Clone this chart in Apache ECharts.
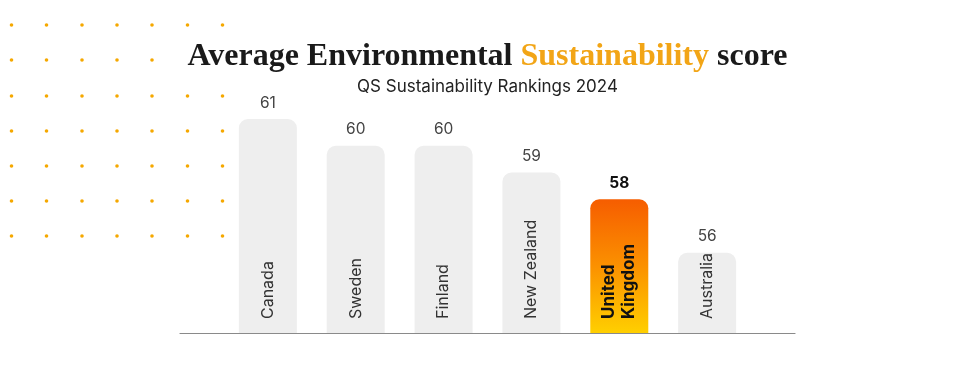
<!DOCTYPE html>
<html><head><meta charset="utf-8">
<style>html,body{margin:0;padding:0;background:#fff}#c{width:975px;height:369px}</style>
<script src="https://cdn.jsdelivr.net/npm/echarts@6/dist/echarts.min.js"></script>
</head><body><div id="c"></div>
<script>
const categories = ['Canada', 'Sweden', 'Finland', 'New Zealand', 'United\nKingdom', 'Australia'];
const scores = [61, 60, 60, 59, 58, 56];
const highlightIndex = 4;
const titleText = 'Average Environmental ';
const titleAccent = 'Sustainability';
const titleEnd = ' score';
const subtitleText = 'QS Sustainability Rankings 2024';

const chart = echarts.init(document.getElementById('c'));

// decorative dot grid
const dotCols = [11.5, 46.5, 82, 117, 152, 187.5, 222.5];
const dotRows = [25, 60, 96, 131, 166, 201, 236];
const dots = [];
dotRows.forEach((y, ri) => {
  dotCols.forEach((x, ci) => {
    if (ri === 1 && ci > 4) return;
    dots.push({type: 'circle', shape: {cx: x, cy: y, r: 1.8}, style: {fill: '#f5a800'}, silent: true});
  });
});

const data = scores.map((v, i) => {
  const hl = i === highlightIndex;
  return {
    value: [i, v],
    name: categories[i],
    itemStyle: hl ? {
      color: new echarts.graphic.LinearGradient(0, 0, 0, 1, [
        {offset: 0, color: '#f65d00'},
        {offset: 0.5, color: '#fb9100'},
        {offset: 1, color: '#ffcf00'}
      ])
    } : {color: '#eeeeee'},
    label: hl ? {color: '#111', fontWeight: 'bold', fontSize: 17, lineHeight: 20} : {}
  };
});

chart.setOption({
  animation: false,
  title: {
    text: '{a|' + titleText + '}{b|' + titleAccent + '}{a|' + titleEnd + '}',
    subtext: subtitleText,
    left: 'center',
    top: 36,
    itemGap: 5,
    textStyle: {
      rich: {
        a: {fontFamily: 'Liberation Serif', fontWeight: 'bold', fontSize: 32, color: '#1a1a1a'},
        b: {fontFamily: 'Liberation Serif', fontWeight: 'bold', fontSize: 32, color: '#f2a516'}
      }
    },
    subtextStyle: {fontFamily: 'Inter', fontSize: 17, color: '#222'}
  },
  graphic: dots,
  grid: {left: 180, right: 180, top: 12, bottom: 36},
  xAxis: {
    type: 'value', min: -1, max: 6,
    axisLine: {show: true, lineStyle: {color: '#8a8a8a', width: 1.2}},
    axisTick: {show: false}, axisLabel: {show: false}, splitLine: {show: false}
  },
  yAxis: {
    type: 'value', min: 53, max: 65, show: false,
    splitLine: {show: false}
  },
  series: [{
    type: 'bar',
    barWidth: 58,
    data: data,
    itemStyle: {borderRadius: [9, 9, 0, 0]},
    label: {
      show: true,
      position: 'insideBottom',
      rotate: 90,
      align: 'left',
      verticalAlign: 'middle',
      distance: 14,
      fontFamily: 'Inter',
      fontSize: 16,
      color: '#333',
      formatter: p => p.name
    },
    z: 2
  }, {
    type: 'bar',
    barWidth: 58,
    barGap: '-100%',
    data: scores.map((v, i) => ({
      value: [i, v],
      itemStyle: {color: 'transparent'},
      label: i === highlightIndex ? {color: '#111', fontWeight: 'bold'} : {}
    })),
    label: {
      show: true,
      position: 'top',
      distance: 8,
      fontFamily: 'Inter',
      fontSize: 15.5,
      color: '#444',
      formatter: p => p.value[1]
    },
    z: 3
  }]
});
</script></body></html>
